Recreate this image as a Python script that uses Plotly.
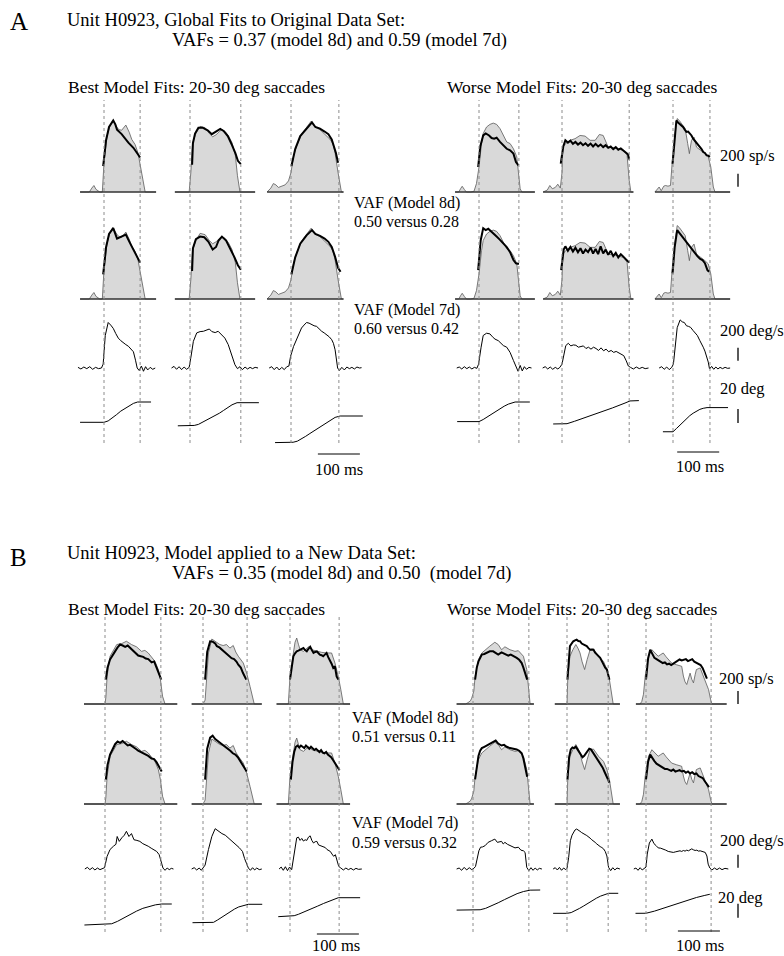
import plotly.graph_objects as go

# ================= DATA =================
# time in ms from saccade onset, firing rate in sp/s, eye velocity in deg/s, eye position in deg
SACC_DUR_A = [86, 121, 114, 95, 160, 88]
SACC_DUR_B = [133, 105, 117, 133, 98, 155]

# ---------- Panel A ----------
A1_rate_t = [-57, -35, -29, -24, -19, -10, -4, 0, 7, 14, 21, 31, 36, 42, 52, 60, 66, 74, 81, 90, 98, 124]
A1_rate = [0, 0, 60, 100, 40, 0, 0, 450, 850, 1020, 1100, 990, 960, 950, 1030, 920, 810, 730, 600, 300, 0, 0]
A1_m8_t = [-2, 5, 12, 22, 27, 31, 42, 50, 58, 70, 82, 86]
A1_m8 = [400, 800, 1000, 1100, 1040, 960, 890, 820, 760, 680, 580, 530]
A1_m7_t = [-2, 5, 12, 22, 31, 42, 52, 62, 70, 80, 86]
A1_m7 = [380, 800, 1000, 1090, 930, 960, 990, 860, 760, 620, 560]
A1_vel_t = [-62, -55, -48, -41, -34, -27, -20, -13, -6, -2, 3, 10, 16, 22, 28, 34, 40, 46, 52, 58, 64, 70, 75, 79, 84, 89, 94, 99, 104, 110, 116, 122]
A1_vel = [10, -15, 15, -10, 20, -20, 10, -10, 0, 60, 500, 700, 660, 610, 530, 460, 420, 385, 360, 335, 300, 250, 120, 0, -40, 30, -50, 20, -30, 10, -20, 0]
A1_pos_t = [-57, 0, 10, 20, 30, 40, 50, 60, 70, 80, 90, 112]
A1_pos = [11, 11, 13, 17, 22, 27, 31, 35, 38, 40, 40, 40]

A2_rate_t = [-36, -2, 2, 6, 14, 24, 36, 46, 54, 62, 70, 76, 84, 92, 100, 108, 113, 119, 155]
A2_rate = [0, 0, 300, 750, 900, 1010, 990, 900, 850, 880, 930, 960, 930, 860, 760, 560, 250, 0, 0]
A2_m8_t = [5, 7, 12, 20, 30, 42, 52, 62, 72, 80, 90, 100, 108, 114, 121]
A2_m8 = [420, 750, 900, 990, 990, 950, 890, 930, 970, 940, 860, 720, 600, 480, 430]
A2_m7_t = [5, 7, 14, 24, 34, 44, 54, 62, 68, 76, 86, 96, 106, 114, 121]
A2_m7 = [430, 780, 920, 960, 950, 880, 760, 800, 900, 960, 900, 780, 640, 520, 450]
A2_vel_t = [-44, -38, -32, -26, -20, -14, -8, -2, 3, 8, 16, 24, 32, 40, 46, 52, 60, 67, 75, 83, 91, 99, 107, 113, 119, 125, 131, 137, 143, 149, 155, 162]
A2_vel = [0, 25, -20, 20, -25, 15, -20, 10, 200, 410, 540, 560, 565, 590, 600, 560, 545, 565, 520, 460, 360, 205, 50, -10, 20, -25, 15, -15, 10, -10, 10, 0]
A2_pos_t = [-29, 0, 10, 20, 30, 40, 50, 60, 70, 80, 90, 100, 112, 125, 164]
A2_pos = [6, 6, 6.5, 8, 11, 14, 17, 20, 24, 28, 32, 36, 39, 39, 39]

A3_rate_t = [-57, -48, -42, -36, -30, -22, -14, -6, 0, 6, 13, 25, 37, 44, 48, 52, 57, 69, 81, 93, 100, 105, 112, 120, 125]
A3_rate = [0, 60, 130, 110, 70, 90, 110, 170, 300, 550, 700, 890, 990, 1040, 1090, 1050, 1000, 960, 890, 810, 740, 600, 300, 0, 0]
A3_m8_t = [1, 10, 22, 37, 50, 58, 69, 80, 89, 97, 107, 112]
A3_m8 = [400, 660, 860, 975, 1070, 1000, 975, 930, 890, 810, 600, 450]
A3_m7_t = [1, 10, 22, 37, 50, 58, 69, 80, 89, 97, 105, 112, 118]
A3_m7 = [380, 640, 850, 980, 1060, 1000, 970, 930, 880, 800, 650, 480, 420]
A3_vel_t = [-52, -46, -40, -34, -28, -22, -16, -10, -5, -1, 6, 12, 18, 25, 31, 37, 43, 49, 55, 61, 67, 73, 79, 85, 91, 97, 101, 105, 111, 115, 121, 127, 133, 139, 145, 151, 157, 163, 168]
A3_vel = [0, 20, -25, 15, -30, 10, -25, 20, 30, 180, 330, 430, 510, 615, 660, 700, 690, 665, 650, 640, 600, 565, 540, 515, 480, 435, 380, 280, 0, -40, 10, -30, 15, -10, 10, -15, 15, 0, 5]
A3_pos_t = [-38, 0, 5, 15, 25, 35, 45, 55, 65, 75, 85, 95, 105, 117, 130, 171]
A3_pos = [-18, -18, -17.5, -16, -13, -9, -5, -1, 3, 7, 11, 14.5, 18, 20, 20, 20]

A4_rate_t = [-57, -48, -44, -40, -35, -30, -20, -12, -6, 0, 6, 10, 18, 26, 34, 42, 50, 58, 66, 74, 82, 90, 94, 98, 102, 133]
A4_rate = [0, 0, 50, 88, 40, 0, 0, 10, 130, 385, 745, 900, 1000, 1040, 1060, 1040, 975, 870, 770, 745, 665, 540, 280, 50, 0, 0]
A4_m8_t = [-2, 3, 10, 16, 24, 30, 36, 42, 50, 58, 66, 74, 82, 88, 94]
A4_m8 = [385, 700, 870, 900, 870, 830, 820, 835, 770, 720, 665, 640, 590, 460, 410]
A4_m7_t = [-2, 4, 10, 16, 22, 28, 34, 42, 50, 58, 66, 74, 82, 88, 95]
A4_m7 = [445, 900, 1090, 1060, 1080, 1040, 1000, 960, 910, 860, 800, 720, 600, 550, 540]
A4_vel_t = [-53, -47, -41, -35, -29, -23, -17, -11, -5, -1, 5, 10, 18, 26, 32, 38, 46, 52, 58, 66, 74, 82, 88, 93, 98, 103, 108, 113, 119, 125]
A4_vel = [0, 15, -15, 20, -10, 15, -15, 10, -5, 60, 320, 500, 535, 525, 480, 445, 420, 380, 345, 320, 240, 115, 10, -50, 40, -45, 20, -20, 10, 0]
A4_pos_t = [-52, 0, 10, 20, 30, 40, 50, 60, 70, 80, 86, 121]
A4_pos = [12, 12, 15, 19, 23, 27, 31, 34, 37, 39.5, 40, 40]

A5_rate_t = [-45, -35, -29, -23, -16, -10, -4, 0, 2, 8, 19, 31, 43, 55, 67, 79, 89, 98, 110, 120, 130, 146, 155, 160, 164, 170]
A5_rate = [0, 30, 100, 50, 70, 120, 60, 300, 690, 740, 795, 820, 870, 860, 795, 795, 885, 870, 690, 680, 670, 640, 565, 180, 0, 0]
A5_m8_t = [-3, 3, 8, 14, 20, 26, 32, 38, 44, 50, 56, 62, 68, 74, 80, 86, 92, 98, 104, 110, 116, 122, 128, 134, 140, 146, 152, 157, 160]
A5_m8 = [435, 700, 795, 760, 790, 740, 770, 730, 760, 720, 750, 710, 745, 700, 740, 700, 730, 690, 720, 680, 700, 660, 690, 650, 670, 640, 610, 580, 500]
A5_m7_t = [-2, 4, 8, 14, 20, 26, 32, 38, 44, 50, 56, 62, 68, 74, 80, 86, 92, 98, 104, 110, 116, 122, 128, 134, 140, 146, 152, 157, 160]
A5_m7 = [445, 760, 810, 740, 800, 730, 790, 720, 780, 700, 760, 720, 790, 700, 770, 690, 810, 700, 760, 680, 740, 660, 710, 640, 690, 650, 620, 580, 560]
A5_vel_t = [-46, -40, -34, -28, -22, -16, -10, -5, 0, 4, 9, 15, 21, 27, 33, 39, 45, 51, 57, 63, 69, 75, 81, 87, 93, 99, 105, 111, 117, 123, 129, 135, 141, 147, 153, 158, 163, 170, 177, 184, 191, 198, 206]
A5_vel = [0, 20, -15, 15, -20, 10, -15, 10, 60, 215, 345, 380, 340, 355, 350, 320, 330, 340, 300, 320, 290, 320, 300, 270, 310, 265, 290, 250, 270, 240, 255, 230, 210, 190, 110, 30, 10, -15, 15, -10, 10, -10, 0]
A5_pos_t = [-21, 0, 12, 30, 60, 90, 120, 150, 162, 183]
A5_pos = [8.6, 8.6, 9, 12.5, 18.5, 25, 31.5, 38.5, 41.5, 42]

A6_rate_t = [-43, -38, -33, -28, -22, -18, -12, -6, -1, 5, 10, 15, 20, 29, 35, 39, 44, 50, 56, 62, 68, 76, 84, 90, 96, 100, 136]
A6_rate = [0, 40, 77, 20, 90, 100, 90, 100, 540, 900, 1130, 1100, 1050, 975, 745, 590, 795, 845, 690, 660, 640, 590, 540, 385, 77, 0, 0]
A6_m8_t = [-1, 4, 8, 12, 16, 20, 24, 28, 32, 36, 40, 44, 48, 52, 56, 60, 64, 68, 72, 76, 80, 84, 88]
A6_m8 = [435, 800, 1100, 1070, 1050, 1030, 1000, 960, 925, 930, 900, 870, 820, 790, 745, 720, 690, 660, 615, 600, 565, 560, 540]
A6_m7_t = [-1, 4, 10, 16, 22, 28, 34, 40, 46, 52, 58, 64, 70, 76, 82, 86]
A6_m7 = [395, 800, 1060, 1000, 960, 910, 860, 805, 760, 700, 660, 620, 600, 550, 445, 420]
A6_vel_t = [-33, -27, -21, -15, -9, -3, 1, 5, 10, 17, 22, 27, 32, 37, 42, 48, 53, 58, 64, 68, 72, 76, 80, 84, 87, 92, 97, 102, 107, 112, 118, 124, 130, 136]
A6_vel = [0, 20, -20, 15, -25, 10, 60, 370, 620, 740, 710, 700, 650, 640, 625, 575, 540, 500, 420, 380, 320, 260, 190, 90, -15, 25, -20, 15, -15, 10, -10, 10, -5, 0]
A6_pos_t = [-24, 0, 8, 16, 24, 32, 40, 48, 56, 64, 72, 81, 131]
A6_pos = [-2.5, -2.5, 2, 7, 12, 16.5, 20.5, 24, 27, 29.5, 31, 32, 32]

# ---------- Panel B ----------
B1_rate_t = [-50, 0, 2, 5, 12, 20, 28, 40, 51, 63, 75, 87, 95, 103, 111, 119, 127, 132, 137, 143, 172]
B1_rate = [0, 0, 100, 425, 735, 835, 915, 930, 965, 915, 880, 810, 825, 785, 710, 655, 530, 375, 120, 0, 0]
B1_m8_t = [2, 6, 12, 18, 24, 30, 36, 42, 48, 54, 60, 67, 73, 79, 85, 91, 97, 103, 111, 117, 123, 131, 134]
B1_m8 = [375, 560, 685, 760, 810, 870, 915, 900, 880, 900, 860, 810, 780, 745, 735, 725, 700, 690, 640, 655, 555, 425, 375]
B1_m7_t = [2, 6, 12, 18, 24, 30, 36, 42, 48, 54, 60, 67, 73, 79, 85, 91, 97, 103, 111, 117, 123, 131, 135]
B1_m7 = [375, 600, 760, 850, 920, 960, 940, 970, 930, 900, 910, 870, 850, 820, 800, 790, 760, 740, 700, 690, 640, 560, 500]
B1_vel_t = [-48, -42, -36, -30, -24, -18, -12, -6, -1, 5, 12, 20, 26, 29, 34, 40, 46, 51, 57, 63, 69, 76, 83, 90, 97, 103, 110, 116, 123, 129, 134, 138, 143, 148, 153, 158, 163]
B1_vel = [0, 25, -10, 20, -15, 15, -10, 10, 20, 195, 300, 350, 380, 500, 425, 480, 520, 580, 500, 545, 450, 440, 425, 390, 375, 350, 320, 300, 270, 220, 120, 15, -20, 15, -10, 10, 0]
B1_pos_t = [-49, 0, 16, 30, 45, 60, 75, 90, 105, 120, 135, 159]
B1_pos = [-14.3, -13.5, -12.5, -9, -4, 1, 5.5, 9.5, 12.5, 14.5, 15.7, 15.7]

B2_rate_t = [-27, 0, 5, 8, 13, 21, 29, 40, 48, 56, 64, 72, 78, 84, 96, 104, 112, 119, 122, 140]
B2_rate = [0, 0, 60, 400, 785, 1000, 965, 915, 900, 915, 860, 900, 800, 735, 630, 475, 270, 65, 0, 0]
B2_m8_t = [5, 10, 17, 23, 29, 33, 39, 45, 50, 56, 62, 68, 74, 80, 84, 90, 95, 99, 103]
B2_m8 = [375, 800, 965, 960, 930, 890, 870, 835, 810, 785, 740, 705, 690, 650, 605, 560, 480, 425, 375]
B2_m7_t = [5, 10, 17, 23, 29, 35, 41, 47, 53, 59, 65, 71, 77, 83, 89, 95, 100, 104]
B2_m7 = [375, 850, 1020, 1050, 1000, 970, 940, 920, 880, 860, 820, 780, 760, 720, 660, 600, 540, 500]
B2_vel_t = [-27, -21, -15, -9, -4, 0, 5, 13, 21, 29, 37, 45, 53, 61, 68, 75, 80, 86, 90, 94, 99, 104, 108, 113, 118, 123, 128, 134, 140]
B2_vel = [0, 20, -15, 15, -20, 10, 60, 300, 500, 620, 580, 545, 520, 475, 440, 400, 375, 330, 300, 270, 160, 70, 15, -20, 20, -15, 15, -10, 0]
B2_pos_t = [-25, 0, 25, 35, 45, 55, 65, 75, 85, 95, 108, 141]
B2_pos = [-11, -11, -10.5, -7, -3, 1, 5, 8.5, 11.5, 13.5, 15.3, 15.3]

B3_rate_t = [-32, -4, 0, 4, 8, 12, 16, 20, 24, 32, 44, 52, 64, 75, 87, 99, 107, 115, 121, 127, 143]
B3_rate = [0, 0, 425, 650, 785, 950, 1015, 920, 835, 810, 880, 835, 810, 795, 785, 785, 630, 425, 220, 0, 0]
B3_m8_t = [0, 4, 8, 12, 16, 20, 24, 28, 32, 36, 40, 44, 48, 52, 56, 60, 64, 68, 71, 75, 79, 83, 87, 91, 95, 99, 103, 107, 111, 115]
B3_m8 = [375, 600, 735, 780, 810, 820, 835, 850, 860, 830, 810, 850, 880, 830, 785, 800, 810, 780, 760, 750, 735, 760, 785, 720, 680, 620, 555, 580, 425, 375]
B3_m7_t = [2, 6, 10, 14, 18, 22, 26, 30, 34, 38, 42, 46, 50, 54, 58, 62, 66, 70, 74, 78, 82, 86, 90, 94, 98, 102, 106, 110, 114, 118]
B3_m7 = [375, 650, 800, 880, 900, 870, 900, 880, 860, 900, 870, 850, 880, 860, 830, 850, 820, 800, 830, 790, 780, 800, 760, 740, 720, 680, 640, 600, 560, 520]
B3_vel_t = [-26, -21, -16, -11, -6, -1, 4, 8, 12, 16, 20, 24, 28, 32, 36, 40, 44, 48, 52, 56, 60, 64, 68, 72, 76, 80, 84, 88, 92, 96, 100, 104, 108, 112, 116, 121, 127, 133, 139, 145, 151, 157, 163, 171]
B3_vel = [0, 30, -20, 35, -25, 30, -10, 150, 350, 480, 490, 440, 470, 430, 450, 440, 490, 510, 440, 400, 420, 425, 370, 360, 350, 350, 330, 300, 290, 270, 230, 195, 220, 110, 40, 15, -15, 15, -10, 10, -15, 10, -5, 0]
B3_pos_t = [-28, 0, 10, 20, 35, 50, 65, 80, 95, 108, 115, 167]
B3_pos = [-2.4, -2, -1, 1, 4.5, 8.5, 12.5, 16.5, 20.5, 23.5, 24.7, 24.7]

B4_rate_t = [-39, -18, -12, -6, -3, 2, 5, 9, 13, 21, 33, 40, 52, 60, 68, 76, 88, 100, 108, 120, 128, 132, 136, 145]
B4_rate = [0, 0, 20, 50, 90, 200, 425, 560, 685, 785, 860, 890, 950, 915, 835, 880, 835, 810, 820, 735, 530, 220, 0, 0]
B4_m8_t = [5, 9, 13, 17, 21, 27, 33, 40, 48, 54, 60, 68, 74, 80, 84, 90, 96, 104, 110, 116, 120, 124, 129]
B4_m8 = [375, 560, 655, 720, 760, 770, 785, 810, 810, 780, 760, 795, 775, 760, 745, 760, 740, 710, 680, 630, 560, 475, 375]
B4_m7_t = [5, 9, 13, 17, 21, 27, 33, 40, 48, 54, 60, 68, 74, 80, 88, 96, 104, 110, 116, 120, 124, 129]
B4_m7 = [380, 600, 740, 820, 860, 880, 900, 930, 960, 975, 930, 900, 910, 880, 860, 850, 840, 820, 780, 700, 560, 420]
B4_vel_t = [-39, -33, -27, -21, -15, -9, -3, 2, 6, 10, 14, 18, 23, 29, 36, 44, 52, 58, 64, 68, 72, 76, 82, 88, 94, 100, 108, 114, 120, 124, 128, 133, 138, 143, 148, 153, 158, 164]
B4_vel = [0, 15, -20, 25, -15, 20, -10, 10, 40, 180, 280, 335, 340, 360, 410, 435, 460, 410, 425, 425, 385, 410, 380, 360, 340, 325, 335, 290, 280, 255, 25, -25, 20, -20, 15, -15, 10, 0]
B4_pos_t = [-39, 0, 17, 30, 45, 60, 75, 90, 105, 120, 136, 160]
B4_pos = [7, 7, 7.5, 9.5, 13, 17.5, 22, 26.5, 30.5, 33.5, 35.5, 35.7]

B5_rate_t = [-29, 0, 2, 7, 14, 21, 26, 31, 36, 39, 42, 48, 55, 63, 69, 75, 87, 95, 101, 107, 110, 126]
B5_rate = [0, 0, 425, 735, 835, 915, 860, 785, 650, 580, 530, 685, 835, 845, 790, 735, 655, 530, 375, 65, 0, 0]
B5_m8_t = [1, 4, 7, 11, 15, 19, 23, 27, 31, 35, 39, 43, 47, 51, 55, 59, 63, 67, 71, 75, 79, 83, 87, 91, 95, 99, 101]
B5_m8 = [375, 700, 890, 930, 965, 980, 990, 970, 965, 930, 915, 900, 890, 860, 835, 840, 835, 790, 760, 730, 710, 660, 605, 560, 530, 425, 375]
B5_m7_t = [1, 5, 9, 13, 17, 21, 25, 29, 33, 37, 41, 45, 49, 53, 57, 61, 65, 69, 73, 77, 81, 85, 89, 93, 97, 101]
B5_m7 = [375, 720, 840, 870, 860, 880, 840, 800, 760, 720, 740, 780, 820, 850, 840, 800, 760, 740, 700, 660, 620, 560, 500, 440, 380, 330]
B5_vel_t = [-33, -28, -23, -18, -13, -8, -3, 0, 4, 8, 12, 15, 19, 23, 27, 31, 35, 39, 43, 47, 51, 55, 59, 63, 67, 71, 75, 79, 83, 87, 91, 95, 99, 104, 109, 114, 119, 126]
B5_vel = [0, 20, -15, 25, -20, 15, -10, 10, 180, 435, 520, 565, 600, 615, 590, 580, 560, 550, 530, 515, 500, 475, 450, 435, 410, 385, 360, 345, 330, 310, 270, 200, 25, -25, 20, -15, 15, 0]
B5_pos_t = [-33, 0, 10, 20, 30, 40, 50, 60, 70, 80, 90, 99, 122]
B5_pos = [2.4, 2.4, 3.5, 6, 9.5, 13, 17, 20.5, 24, 27, 29.5, 31, 31]

B6_rate_t = [-24, -14, -10, -6, -2, 2, 6, 14, 22, 29, 35, 41, 48, 61, 72, 85, 89, 93, 97, 101, 105, 109, 113, 117, 120, 129, 137, 143, 149, 154, 157, 192]
B6_rate = [0, 0, 40, 150, 425, 600, 735, 835, 785, 735, 760, 785, 725, 630, 605, 580, 430, 340, 300, 400, 475, 380, 325, 450, 530, 555, 425, 325, 220, 65, 0, 0]
B6_m8_t = [0, 5, 10, 15, 20, 25, 30, 35, 40, 45, 50, 55, 60, 65, 70, 75, 80, 85, 90, 95, 100, 105, 110, 115, 120, 125, 130, 135, 140, 145]
B6_m8 = [375, 700, 835, 760, 710, 690, 670, 650, 630, 640, 610, 620, 600, 620, 640, 660, 685, 670, 680, 690, 660, 670, 690, 650, 630, 610, 600, 550, 470, 390]
B6_m7_t = [0, 5, 10, 15, 20, 25, 30, 35, 40, 45, 50, 55, 60, 65, 70, 75, 80, 85, 90, 95, 100, 105, 110, 115, 120, 125, 130, 135, 140, 145, 150]
B6_m7 = [375, 650, 760, 700, 660, 620, 600, 580, 560, 540, 540, 520, 510, 530, 500, 510, 520, 500, 510, 480, 500, 470, 490, 460, 470, 430, 420, 400, 350, 300, 260]
B6_vel_t = [-29, -24, -19, -14, -9, -4, 0, 3, 8, 14, 19, 24, 29, 35, 41, 47, 53, 59, 65, 71, 77, 81, 85, 89, 93, 97, 101, 105, 109, 113, 117, 121, 125, 129, 133, 137, 141, 145, 148, 152, 157, 163, 169, 175, 181, 188, 196]
B6_vel = [0, 15, -20, 20, -15, 10, 30, 230, 400, 460, 390, 360, 325, 320, 310, 290, 270, 260, 255, 265, 275, 280, 270, 285, 275, 290, 280, 300, 310, 295, 285, 290, 275, 280, 270, 265, 255, 200, 75, 15, -15, 15, -10, 15, -10, 10, 0]
B6_pos_t = [-25, 0, 20, 40, 60, 80, 100, 120, 140, 152]
B6_pos = [2.4, 2.5, 5.5, 9.5, 13.5, 17.5, 21.5, 25, 28, 29.6]

# scale bar values
BAR_MS = 100
BAR_RATE = 200
BAR_VEL = 200
BAR_POS = 20

TEXT_A = dict(label="A", title="Unit H0923, Global Fits to Original Data Set:",
              vafs="VAFs = 0.37 (model 8d) and 0.59 (model 7d)",
              vaf8="0.50 versus 0.28", vaf7="0.60 versus 0.42")
TEXT_B = dict(label="B", title="Unit H0923, Model applied to a New Data Set:",
              vafs="VAFs = 0.35 (model 8d) and 0.50\u00a0 (model 7d)",
              vaf8="0.51 versus 0.11", vaf7="0.59 versus 0.32")

# ================= LAYOUT =================
W, H = 784, 956
PX_MS = 0.42      # px per ms
PX_RATE = 0.065   # px per sp/s
PX_VEL = 0.065    # px per deg/s
PX_DEG = 0.7      # px per deg
SCALES = [PX_RATE, PX_RATE, PX_VEL, PX_DEG]

ONSET_PX = {'A': [104, 190, 291, 479, 562, 673], 'B': [105, 203, 290, 473, 567, 646]}
BASE_PX = {'A': [192, 299, 368, 430], 'B': [704, 804, 869, 915]}
DOT_PX = {'A': (100, 443), 'B': (615, 932)}
DUR = {'A': SACC_DUR_A, 'B': SACC_DUR_B}

COLS = {
    'A': [
        (A1_rate_t, A1_rate, A1_m8_t, A1_m8, A1_m7_t, A1_m7, A1_vel_t, A1_vel, A1_pos_t, A1_pos),
        (A2_rate_t, A2_rate, A2_m8_t, A2_m8, A2_m7_t, A2_m7, A2_vel_t, A2_vel, A2_pos_t, A2_pos),
        (A3_rate_t, A3_rate, A3_m8_t, A3_m8, A3_m7_t, A3_m7, A3_vel_t, A3_vel, A3_pos_t, A3_pos),
        (A4_rate_t, A4_rate, A4_m8_t, A4_m8, A4_m7_t, A4_m7, A4_vel_t, A4_vel, A4_pos_t, A4_pos),
        (A5_rate_t, A5_rate, A5_m8_t, A5_m8, A5_m7_t, A5_m7, A5_vel_t, A5_vel, A5_pos_t, A5_pos),
        (A6_rate_t, A6_rate, A6_m8_t, A6_m8, A6_m7_t, A6_m7, A6_vel_t, A6_vel, A6_pos_t, A6_pos),
    ],
    'B': [
        (B1_rate_t, B1_rate, B1_m8_t, B1_m8, B1_m7_t, B1_m7, B1_vel_t, B1_vel, B1_pos_t, B1_pos),
        (B2_rate_t, B2_rate, B2_m8_t, B2_m8, B2_m7_t, B2_m7, B2_vel_t, B2_vel, B2_pos_t, B2_pos),
        (B3_rate_t, B3_rate, B3_m8_t, B3_m8, B3_m7_t, B3_m7, B3_vel_t, B3_vel, B3_pos_t, B3_pos),
        (B4_rate_t, B4_rate, B4_m8_t, B4_m8, B4_m7_t, B4_m7, B4_vel_t, B4_vel, B4_pos_t, B4_pos),
        (B5_rate_t, B5_rate, B5_m8_t, B5_m8, B5_m7_t, B5_m7, B5_vel_t, B5_vel, B5_pos_t, B5_pos),
        (B6_rate_t, B6_rate, B6_m8_t, B6_m8, B6_m7_t, B6_m7, B6_vel_t, B6_vel, B6_pos_t, B6_pos),
    ],
}

FONT = "Liberation Serif, Times New Roman, serif"


def ax_id(prefix, n):
    return prefix if n == 1 else f"{prefix}{n}"


def ax_key(prefix, n):
    return f"{prefix}axis" if n == 1 else f"{prefix}axis{n}"


fig = go.Figure()
layout = dict(width=W, height=H, margin=dict(l=0, r=0, t=0, b=0),
              paper_bgcolor="white", plot_bgcolor="rgba(0,0,0,0)",
              showlegend=False, font=dict(family=FONT, color="black"))
shapes, annotations = [], []

xi = 0
yi = 0
for p_idx, p in enumerate(['A', 'B']):
    y_ids = []
    for r in range(4):
        yi += 1
        base = BASE_PX[p][r]
        sc = SCALES[r]
        layout[ax_key('y', yi)] = dict(domain=[0, 1], range=[(base - H) / sc, base / sc],
                                       visible=False, fixedrange=True)
        y_ids.append(ax_id('y', yi))
    for c in range(6):
        xi += 1
        x_on = ONSET_PX[p][c]
        layout[ax_key('x', xi)] = dict(domain=[0, 1], range=[-x_on / PX_MS, (W - x_on) / PX_MS],
                                       visible=False, fixedrange=True, anchor=y_ids[0])
        xid = ax_id('x', xi)
        rt, rv, m8t, m8v, m7t, m7v, vt, vv, pt, pv = COLS[p][c]
        for row, (mt, mv) in enumerate([(m8t, m8v), (m7t, m7v)]):
            # recorded firing rate (stippled grey area)
            fig.add_trace(go.Scatter(x=rt, y=rv, mode="lines", fill="toself",
                                     fillcolor="#d9d9d9",
                                     line=dict(color="#5a5a5a", width=0.8),
                                     xaxis=xid, yaxis=y_ids[row], hoverinfo="skip"))
            # baseline
            fig.add_trace(go.Scatter(x=[rt[0], rt[-1]], y=[0, 0], mode="lines",
                                     line=dict(color="#333", width=1.4),
                                     xaxis=xid, yaxis=y_ids[row], hoverinfo="skip"))
            # model fit
            fig.add_trace(go.Scatter(x=mt, y=mv, mode="lines",
                                     line=dict(color="black", width=2),
                                     xaxis=xid, yaxis=y_ids[row], hoverinfo="skip"))
        fig.add_trace(go.Scatter(x=vt, y=vv, mode="lines", line=dict(color="black", width=1),
                                 xaxis=xid, yaxis=y_ids[2], hoverinfo="skip"))
        fig.add_trace(go.Scatter(x=pt, y=pv, mode="lines", line=dict(color="black", width=1),
                                 xaxis=xid, yaxis=y_ids[3], hoverinfo="skip"))
        # saccade onset / offset dotted markers
        top, bot = DOT_PX[p]
        for tx in (0, DUR[p][c]):
            shapes.append(dict(type="line", xref=xid, yref="paper", x0=tx, x1=tx,
                               y0=1 - bot / H, y1=1 - top / H,
                               line=dict(color="#8c8c8c", width=1, dash="dot")))

    # ---- scale bars ----
    x3 = ax_id('x', p_idx * 6 + 3)
    x6 = ax_id('x', p_idx * 6 + 6)
    bar_y = {'A': (454, 452), 'B': (934, 931)}[p]
    bar_t0 = {'A': (64, 10), 'B': (64, 76)}[p]
    for xr, yb, t0 in [(x3, bar_y[0], bar_t0[0]), (x6, bar_y[1], bar_t0[1])]:
        shapes.append(dict(type="line", xref=xr, yref="paper", x0=t0, x1=t0 + BAR_MS,
                           y0=1 - yb / H, y1=1 - yb / H, line=dict(color="black", width=1)))
    vbars = {'A': [(80, 80 + BAR_RATE, 0), (110, 110 + BAR_VEL, 2), (10, 10 + BAR_POS, 3)],
             'B': [(0, BAR_RATE, 0), (20, 20 + BAR_VEL, 2), (-4, -4 + BAR_POS, 3)]}[p]
    for v0, v1, r in vbars:
        shapes.append(dict(type="line", xref="paper", yref=y_ids[r], x0=738 / W, x1=738 / W,
                           y0=v0, y1=v1, line=dict(color="black", width=1.3)))


def txt(s, x, y, size=16, anchor="left"):
    annotations.append(dict(text=s, x=x / W, y=1 - y / H, xref="paper", yref="paper",
                            xanchor=anchor, yanchor="middle", showarrow=False,
                            font=dict(family=FONT, size=size, color="black")))


SUB = "Best Model Fits: 20-30 deg saccades"
SUBW = "Worse Model Fits: 20-30 deg saccades"
for p, T in [('A', TEXT_A), ('B', TEXT_B)]:
    if p == 'A':
        txt(T['label'], 8, 22, 25)
        txt(T['title'], 65, 20, 18.5)
        txt(T['vafs'], 170, 41, 18.5)
        txt(SUB, 66, 87, 17.5)
        txt(SUBW, 445, 87, 17.5)
        txt("VAF (Model 8d)", 352, 203, 16)
        txt(T['vaf8'], 352, 222, 16)
        txt("VAF (Model 7d)", 352, 310, 16)
        txt(T['vaf7'], 352, 328, 16)
        txt("200 sp/s", 718, 155, 16.5)
        txt("200 deg/s", 718, 330, 16.5)
        txt("20 deg", 718, 388, 16.5)
        txt("100 ms", 339, 469, 16.5, "center")
        txt("100 ms", 700, 466, 16.5, "center")
    else:
        txt(T['label'], 8, 557, 25)
        txt(T['title'], 65, 553, 18.5)
        txt(T['vafs'], 170, 573, 18.5)
        txt(SUB, 66, 609, 17.5)
        txt(SUBW, 445, 609, 17.5)
        txt("VAF (Model 8d)", 350, 718, 16)
        txt(T['vaf8'], 350, 736, 16)
        txt("VAF (Model 7d)", 350, 823, 16)
        txt(T['vaf7'], 350, 842, 16)
        txt("200 sp/s", 717, 678, 16.5)
        txt("200 deg/s", 718, 840, 16.5)
        txt("20 deg", 716, 897, 16.5)
        txt("100 ms", 336, 945, 16.5, "center")
        txt("100 ms", 700, 945, 16.5, "center")

layout['shapes'] = shapes
layout['annotations'] = annotations
fig.update_layout(**layout)
fig.write_html("out.html")
